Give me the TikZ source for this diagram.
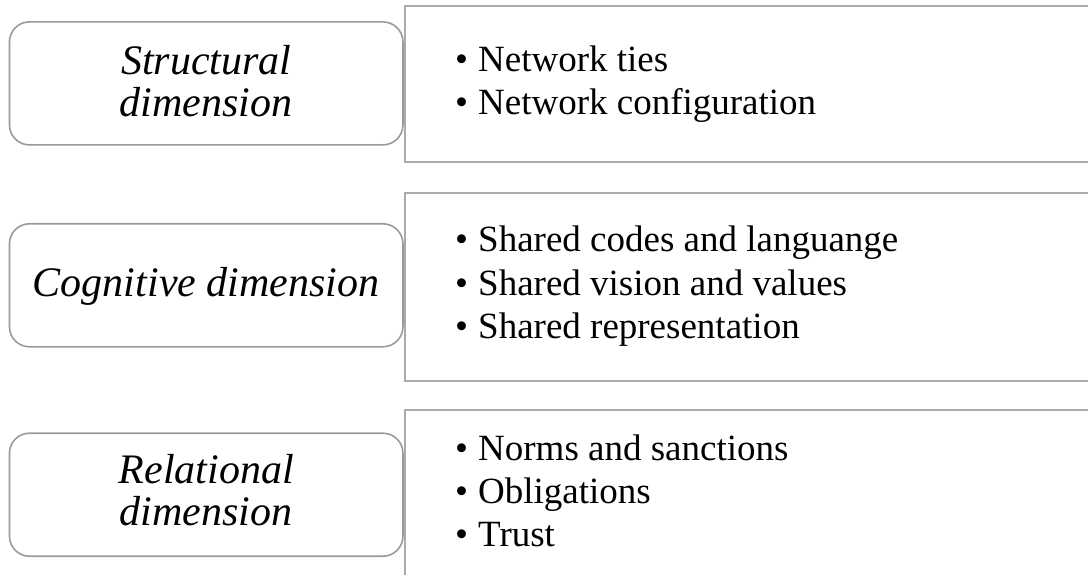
\documentclass[tikz,border=0pt]{standalone}
\usepackage{fontspec}
\setmainfont{Liberation Serif}
\definecolor{dimgray}{HTML}{9A9A9A}
\definecolor{itemgray}{HTML}{ABABAB}
\newcommand{\itembullet}{\makebox[23pt][l]{\textbullet}}
\begin{document}
\begin{tikzpicture}[x=1pt,y=-1pt,
  dimbox/.style={draw=dimgray, line width=1.6pt, rounded corners=20pt, fill=white,
    minimum width=393.5pt, minimum height=123pt, inner sep=0pt},
  itembox/.style={draw=itemgray, line width=2pt, anchor=north west,
    minimum width=720pt, inner sep=0pt},
  dimtext/.style={font=\itshape\fontsize{42}{41.7}\selectfont, align=center,
    anchor=base, inner sep=0pt},
  itemtext/.style={font=\fontsize{37}{43.3}\selectfont, align=left,
    anchor=base west, inner sep=0pt}]
\useasboundingbox (0,0) rectangle (1088,575);
\clip (0,0) rectangle (1088,575);

% item panels (open to the right)
\node[itembox, minimum height=155.5pt] (items1) at (403.5,5.5) {};
\node[itembox, minimum height=187.5pt] (items2) at (403.5,192) {};
\node[itembox, minimum height=200pt]   (items3) at (403.5,409) {};

% dimension boxes
\node[dimbox] (struct) at (206.2,83.4) {};
\node[dimbox] (cogn)   at (206.2,285.3) {};
\node[dimbox] (relat)  at (206.2,494.7) {};

% dimension labels (anchored at the baseline of the last line)
\node[dimtext] (structlbl) at (206.2,116.7) {Structural\\dimension};
\node[dimtext] (cognlbl)   at (206.2,296.7) {Cognitive dimension};
\node[dimtext] (relatlbl)  at (206.2,525)   {Relational\\dimension};

% item lists (anchored at the baseline of the last line)
\node[itemtext] (list1) at (455,115)
  {\itembullet Network ties\\\itembullet Network configuration};
\node[itemtext] (list2) at (455,338.3)
  {\itembullet Shared codes and languange\\\itembullet Shared vision and values\\\itembullet Shared representation};
\node[itemtext] (list3) at (455,546.7)
  {\itembullet Norms and sanctions\\\itembullet Obligations\\\itembullet Trust};
\end{tikzpicture}
\end{document}
